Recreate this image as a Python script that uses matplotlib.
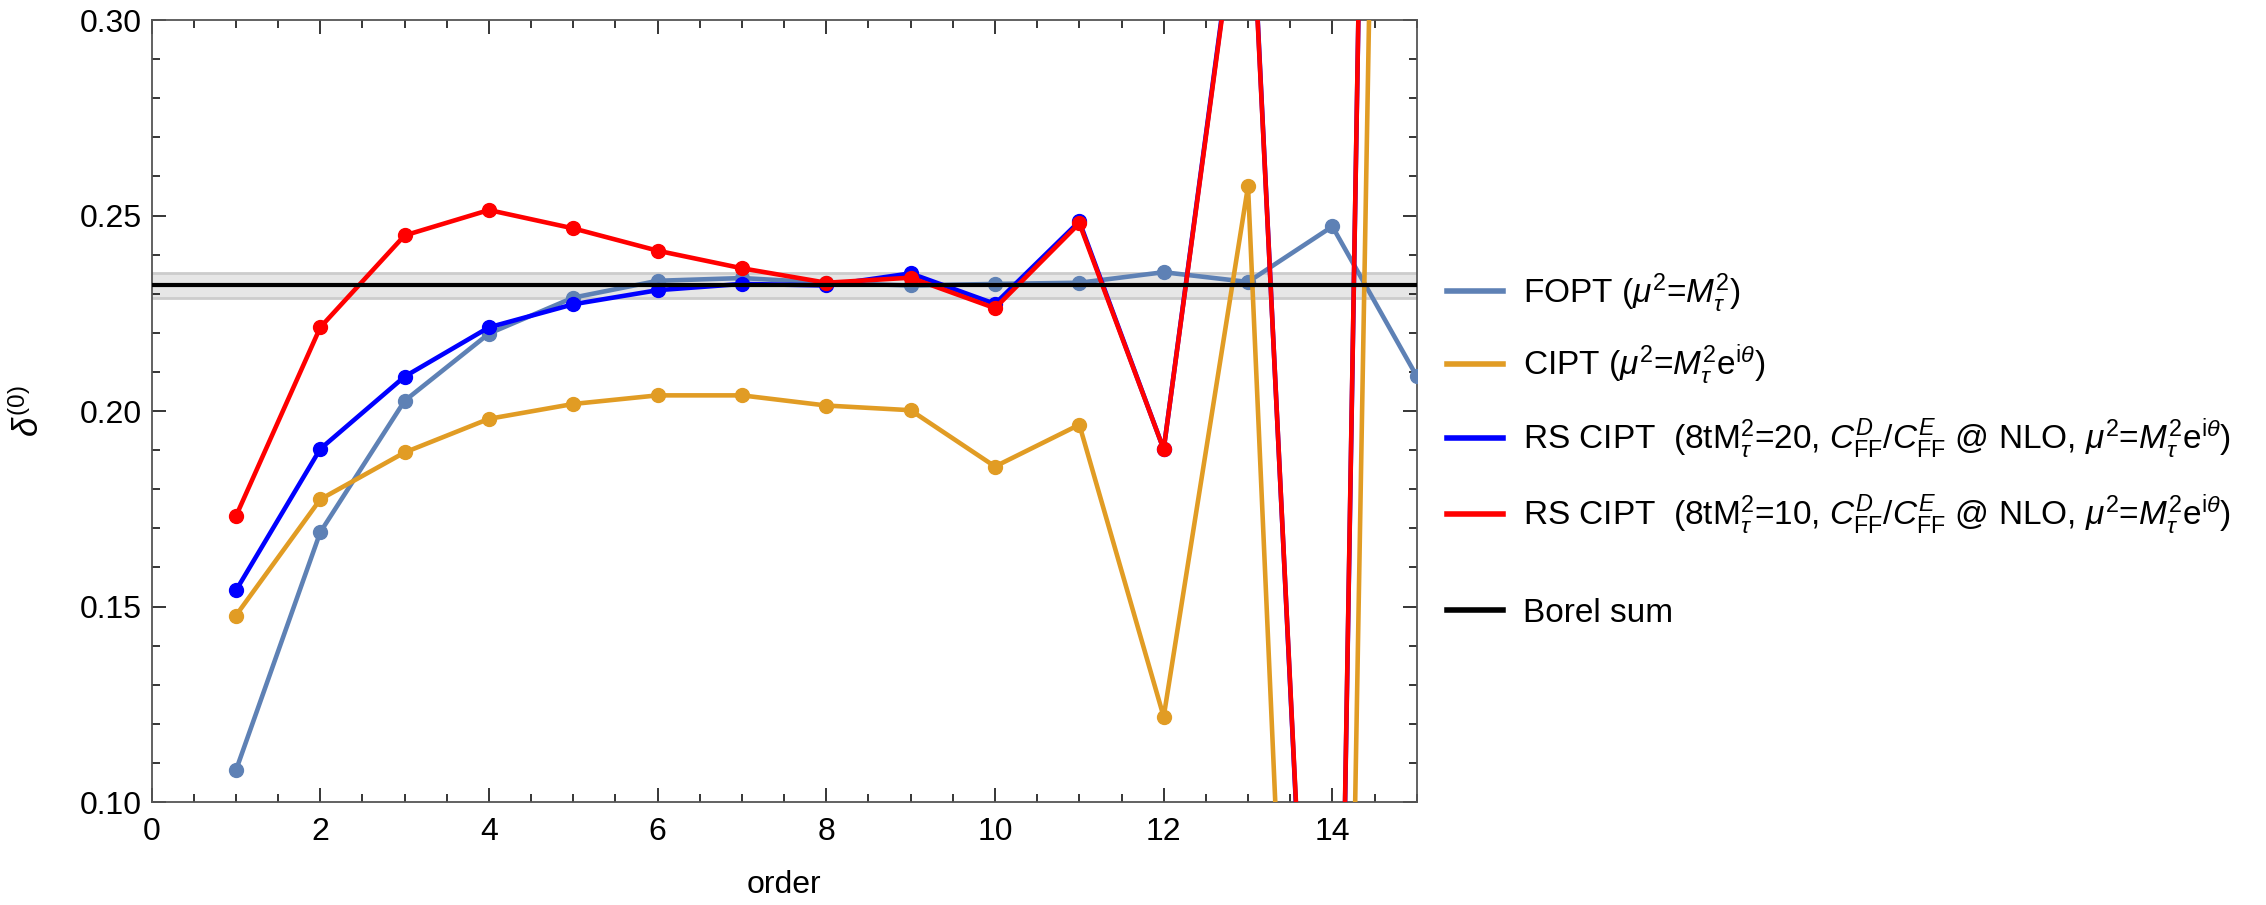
import matplotlib
matplotlib.use("Agg")
import matplotlib.pyplot as plt
from matplotlib.ticker import MultipleLocator, FormatStrFormatter

plt.rcParams['font.family'] = ['Liberation Sans', 'DejaVu Sans']
plt.rcParams['mathtext.fontset'] = 'custom'
plt.rcParams['mathtext.rm'] = 'Liberation Sans'
plt.rcParams['mathtext.it'] = 'Liberation Sans:italic'
plt.rcParams['mathtext.bf'] = 'Liberation Sans:bold'

# perturbative orders
orders = [1, 2, 3, 4, 5, 6, 7, 8, 9, 10, 11, 12, 13, 14, 15]

fopt = [0.1081, 0.1690, 0.2026, 0.2198, 0.2290, 0.2333, 0.2340, 0.2328, 0.2321,
        0.2325, 0.2328, 0.2355, 0.2330, 0.2472, 0.2089]
cipt = [0.1477, 0.1774, 0.1894, 0.1980, 0.2018, 0.2040, 0.2040, 0.2014, 0.2002,
        0.1858, 0.1965, 0.1218, 0.2575, -0.230, 0.990]
rs_cipt_20 = [0.1541, 0.1903, 0.2088, 0.2214, 0.2273, 0.2309, 0.2325, 0.2321, 0.2352,
              0.2274, 0.2485, 0.1902, 0.351, -0.092, 1.180]
rs_cipt_10 = [0.1731, 0.2214, 0.2449, 0.2514, 0.2467, 0.2410, 0.2365, 0.2328, 0.2341,
              0.2263, 0.2480, 0.1902, 0.350, -0.090, 1.177]

borel = 0.2321
borel_err = 0.0031

labels = [r'FOPT ($\mu^2$=$M_\tau^2$)',
          r'CIPT ($\mu^2$=$M_\tau^2\mathrm{e}^{\mathrm{i}\theta}$)',
          r'RS CIPT  (8tM$_\tau^2$=20, $C_{\mathrm{FF}}^D/C_{\mathrm{FF}}^E$ @ NLO, $\mu^2$=$M_\tau^2\mathrm{e}^{\mathrm{i}\theta}$)',
          r'RS CIPT  (8tM$_\tau^2$=10, $C_{\mathrm{FF}}^D/C_{\mathrm{FF}}^E$ @ NLO, $\mu^2$=$M_\tau^2\mathrm{e}^{\mathrm{i}\theta}$)',
          'Borel sum']
colors = ['#5E81B5', '#E19C24', '#0000FF', '#FF0000', 'black']
# legend rows, pixels from the top of the figure
legend_rows = [293, 365, 439, 515, 613]

fig = plt.figure(figsize=(22.66, 9.05), dpi=100)
ax = fig.add_axes([0.0669, 0.1138, 0.5583, 0.8641])

# Borel band
ax.axhspan(borel - borel_err, borel + borel_err, color='#e6e6e6', zorder=1, lw=0)
ax.axhline(borel - borel_err, color='#cccccc', lw=2, zorder=1)
ax.axhline(borel + borel_err, color='#cccccc', lw=2, zorder=1)

handles = []
for data, c, lab in zip([fopt, cipt, rs_cipt_20, rs_cipt_10], colors, labels):
    l, = ax.plot(orders, data, '-o', color=c, lw=3.3, ms=10, label=lab, zorder=3)
    handles.append(l)
bl = ax.axhline(borel, color='black', lw=3, zorder=4, label=labels[4])
handles.append(bl)

ax.set_xlim(0, 15)
ax.set_ylim(0.10, 0.30)
ax.xaxis.set_major_locator(MultipleLocator(2))
ax.xaxis.set_minor_locator(MultipleLocator(0.5))
ax.yaxis.set_major_locator(MultipleLocator(0.05))
ax.yaxis.set_minor_locator(MultipleLocator(0.01))
ax.yaxis.set_major_formatter(FormatStrFormatter('%.2f'))
ax.tick_params(which='both', direction='in', top=True, right=True, labelsize=23, width=1.1)
ax.tick_params(which='major', length=10)
ax.tick_params(which='minor', length=6)
ax.tick_params(axis='x', pad=11)
ax.tick_params(axis='y', pad=7)
for s in ax.spines.values():
    s.set_color('#555555')
    s.set_linewidth(1.3)

ax.set_xlabel('order', fontsize=23, labelpad=16)
ax.set_ylabel(r'$\delta^{(0)}$', fontsize=25, labelpad=24)

for h, row in zip(handles, legend_rows):
    leg = fig.legend(handles=[h], loc='center left', bbox_to_anchor=(0.6384, 1 - row / 905),
                     frameon=False, fontsize=24, handlelength=1.7, handletextpad=0.6,
                     borderpad=0, borderaxespad=0)
    leg.legend_handles[0].set_marker('')
    leg.legend_handles[0].set_linewidth(4)

fig.savefig('out.png', dpi=100)
